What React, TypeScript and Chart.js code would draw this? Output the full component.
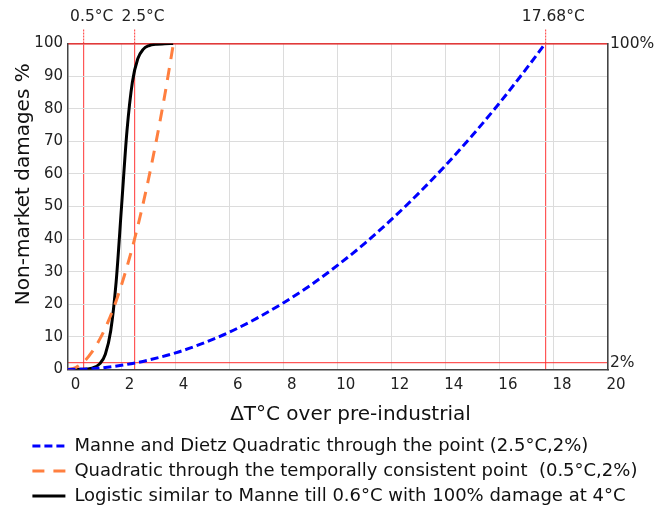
import React, { useEffect, useRef } from "react";
import { Chart, registerables } from "chart.js";

Chart.register(...registerables);

const FONT = "'DejaVu Sans', sans-serif";

// Series values
const blueX = [0, 1, 2, 2.5, 3, 4, 5, 6, 7, 8, 9, 10, 11, 12, 13, 14, 15, 16, 17, 17.68];
const blueY = [0, 0.3, 1.3, 2, 2.9, 5.1, 8, 11.5, 15.7, 20.5, 25.9, 32, 38.7, 46.1, 54.1, 62.7, 72, 81.9, 92.5, 100];

const orangeX = [0, 0.3, 0.6, 0.9, 1.2, 1.5, 1.8, 2.1, 2.4, 2.7, 3.0, 3.3, 3.6, 3.92];
const orangeY = [0, 0.6, 2.3, 5.3, 9.4, 14.6, 21, 28.7, 37.4, 47.4, 58.5, 70.8, 84.2, 100];

const blackX = [0, 0.5, 0.9, 1.2, 1.4, 1.6, 1.8, 2.0, 2.2, 2.4, 2.6, 2.8, 3.0, 3.3, 3.6, 3.91];
const blackY = [0, 0.05, 0.4, 1.8, 4.7, 11.9, 26.9, 50, 73.1, 88.1, 95.3, 98.2, 99.3, 99.8, 99.9, 100];

const seriesLabels = [
  "Manne and Dietz Quadratic through the point (2.5°C,2%)",
  "Quadratic through the temporally consistent point  (0.5°C,2%)",
  "Logistic similar to Manne till 0.6°C with 100% damage at 4°C",
];
const seriesColors = ["#0000ff", "#ff7f3f", "#000000"];
const seriesDash = [[8, 4], [12, 9], []];

// Reference lines and their labels
const refLineX = [0.6, 2.5, 17.68];
const refLineLabels = ["0.5°C", "2.5°C", "17.68°C"];
const refLevelY = [2, 100];
const refLevelLabels = ["2%", "100%"];

// leading spaces reproduce the reference's off-centre title placement
const xTitle = "    ΔT°C over pre-industrial";
const yTitle = "       Non-market damages %";

const toPoints = (xs: number[], ys: number[]) => xs.map((x, i) => ({ x, y: ys[i] }));

const PAD_L = 25.4;
const RED_DOT = "rgba(255,45,45,0.8)";

export default function App() {
  const ref = useRef<HTMLCanvasElement>(null);

  useEffect(() => {
    if (!ref.current) return;
    const series = [
      [blueX, blueY],
      [orangeX, orangeY],
      [blackX, blackY],
    ];
    const chart = new Chart(ref.current, {
      type: "line",
      data: {
        datasets: series.map(([xs, ys], i) => ({
          label: seriesLabels[i],
          data: toPoints(xs, ys),
          borderColor: seriesColors[i],
          backgroundColor: seriesColors[i],
          borderWidth: 3,
          borderDash: seriesDash[i],
          pointRadius: 0,
          cubicInterpolationMode: "monotone",
          fill: false,
        })),
      },
      options: {
        responsive: false,
        animation: false,
        devicePixelRatio: 1,
        layout: { padding: { left: PAD_L, right: 0, top: 0, bottom: 0 } },
        plugins: {
          tooltip: { enabled: false },
          legend: {
            position: "bottom",
            align: "start",
            labels: {
              usePointStyle: true,
              pointStyle: "line",
              pointStyleWidth: 33,
              padding: 7,
              color: "#111",
              font: { family: FONT, size: 18 },
              generateLabels: (c: any) =>
                c.data.datasets.map((ds: any, i: number) => ({
                  text: ds.label,
                  fillStyle: ds.borderColor,
                  strokeStyle: ds.borderColor,
                  lineWidth: 3,
                  lineDash: ds.borderDash || [],
                  lineDashOffset: 0,
                  lineCap: "butt",
                  pointStyle: "line",
                  hidden: false,
                  datasetIndex: i,
                  fontColor: "#111",
                })),
            },
          },
        },
        scales: {
          x: {
            type: "linear",
            position: "bottom",
            min: 0,
            max: 20,
            ticks: {
              stepSize: 2,
              labelOffset: 8,
              padding: 7,
              color: "#222",
              font: { family: FONT, size: 15 },
              maxRotation: 0,
            },
            grid: { color: "#dcdcdc", lineWidth: 1, drawTicks: false },
            border: { color: "#444", width: 1.5 },
            title: {
              display: true,
              text: xTitle,
              color: "#111",
              font: { family: FONT, size: 20 },
              padding: { top: 0, bottom: 3 },
            },
            afterFit: (s: any) => {
              s.height = 60.5;
            },
          },
          x2: {
            type: "linear",
            position: "top",
            min: 0,
            max: 20,
            afterBuildTicks: (s: any) => {
              s.ticks = refLineX.map((v) => ({ value: v }));
            },
            ticks: {
              autoSkip: false,
              maxRotation: 0,
              labelOffset: 8,
              padding: 3.5,
              color: "#222",
              font: { family: FONT, size: 15.5 },
              callback: (_v: any, i: number) => refLineLabels[i],
            },
            grid: {
              color: RED_DOT,
              lineWidth: 1.2,
              borderDash: [2, 1],
              tickBorderDash: [2, 1],
              tickLength: 14,
              drawTicks: true,
            },
            border: { color: "#e03a3a", width: 1.5 },
            afterFit: (s: any) => {
              s.height = 43.5;
            },
          },
          y: {
            type: "linear",
            position: "left",
            min: 0,
            max: 100,
            ticks: {
              stepSize: 10,
              padding: 4.5,
              color: "#222",
              font: { family: FONT, size: 15 },
            },
            grid: {
              color: (ctx: any) =>
                ctx.tick && ctx.tick.value === 100 ? "rgba(0,0,0,0)" : "#dcdcdc",
              lineWidth: 1,
              drawTicks: false,
            },
            border: { color: "#444", width: 1.5 },
            title: {
              display: true,
              text: yTitle,
              color: "#111",
              font: { family: FONT, size: 20 },
              padding: { top: 24 - 12 - PAD_L, bottom: 0 },
            },
            afterFit: (s: any) => {
              s.width = 67.5 - PAD_L;
            },
          },
          y2: {
            type: "linear",
            position: "right",
            min: 0,
            max: 100,
            afterBuildTicks: (s: any) => {
              s.ticks = refLevelY.map((v) => ({ value: v }));
            },
            ticks: {
              autoSkip: false,
              padding: 2,
              color: "#222",
              font: { family: FONT, size: 15.5 },
              callback: (_v: any, i: number) => refLevelLabels[i],
            },
            grid: {
              color: RED_DOT,
              lineWidth: 1.2,
              borderDash: [2, 1],
              drawTicks: false,
            },
            border: { color: "#444", width: 1.5 },
            afterFit: (s: any) => {
              s.width = 62;
            },
          },
        },
      },
    } as any);
    return () => chart.destroy();
  }, []);

  return (
    <div style={{ position: "absolute", left: 0, top: 0, width: 670, height: 515 }}>
      <canvas ref={ref} width={670} height={515} style={{ display: "block" }} />
    </div>
  );
}
